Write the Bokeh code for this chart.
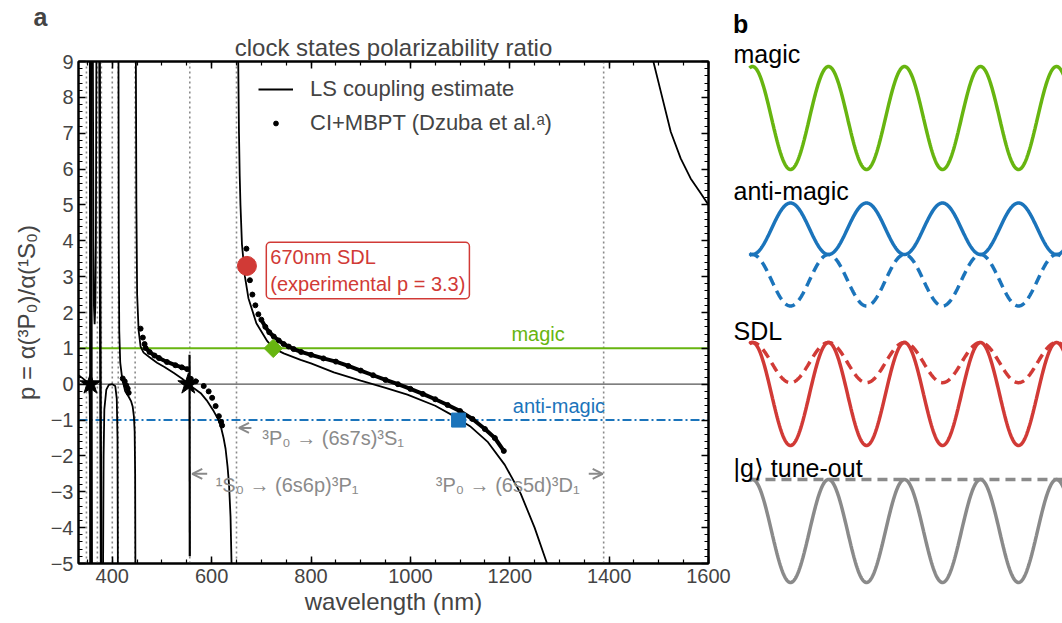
import numpy as np
from bokeh.plotting import figure
from bokeh.layouts import row
from bokeh.models import (Range1d, LinearAxis, SingleIntervalTicker, CustomJSTickFormatter,
                          Span, Label, Legend, LegendItem, Arrow, OpenHead, Title)
from bokeh.embed import file_html
from bokeh.resources import INLINE
from bokeh.core.properties import value

FONT = "Liberation Sans"
GREEN = "#67b510"
BLUE = "#1b74bb"
RED = "#d13a36"
GRAY = "#8a8a8a"

# ---------------- data ----------------
# LS coupling estimate, branches between resonances: wavelength (nm), p
ls_a_lam = [332, 340, 348, 352, 354.5, 355.6, 356.1]
ls_a_p = [0.25, 0.17, 0.08, 0.03, -0.3, -2.0, -5.0]
ls_b_lam = [356.5, 357.0, 357.5]
ls_b_p = [9.0, 0.0, -5.0]
ls_c_lam = [361.0, 362.0, 363.0, 364.5, 366.0, 367.0, 368.0]
ls_c_p = [9.0, 4.0, 2.2, 1.67, 2.2, 4.0, 9.0]
ls_d_lam = [374.5, 375.5, 376.5, 377.5]
ls_d_p = [9.0, 3.0, -1.0, -5.0]
ls_e_lam = [381.5, 382.5, 384, 388, 393, 400, 406, 409, 410.5, 411.2]
ls_e_p = [-5.0, -2.0, -0.7, -0.15, -0.02, 0.0, -0.05, -0.4, -1.5, -5.0]
ls_f_lam = [412.5, 413, 414, 416, 420, 426, 433, 438, 441, 443.5, 445, 446, 446.5]
ls_f_p = [9.0, 4.0, 1.5, 0.6, 0.15, -0.2, -0.35, -0.48, -0.62, -0.9, -1.3, -2.5, -5.0]
ls_g_lam = [447.5, 448.5, 450, 453, 457, 463, 475, 490, 505, 524, 540, 550, 555]
ls_g_p = [9.0, 5.0, 2.5, 1.5, 1.05, 0.88, 0.75, 0.6, 0.48, 0.31, 0.16, 0.05, -0.02]
ls_h_lam = [555.5, 556.0]
ls_h_p = [0.82, -4.8]
ls_i_lam = [556.5, 565, 578, 590, 604, 612, 618, 624, 628, 632, 635, 638, 640]
ls_i_p = [-0.05, -0.12, -0.25, -0.45, -0.75, -0.95, -1.15, -1.5, -1.8, -2.3, -2.8, -3.7, -5.0]
ls_j_lam = [653.5, 655, 656.5, 658, 661, 667, 674, 690, 712, 725, 745, 779, 800, 846, 900,
            950, 994, 1050, 1085, 1120, 1155, 1190, 1222, 1250, 1275]
ls_j_p = [9.0, 7.0, 5.8, 5.0, 3.9, 3.0, 2.4, 1.7, 1.2, 1.0, 0.86, 0.68, 0.58, 0.33, 0.1,
          -0.1, -0.29, -0.6, -0.87, -1.17, -1.6, -2.25, -3.05, -4.0, -5.0]
ls_k_lam = [1489, 1504, 1524, 1544, 1564, 1584, 1600]
ls_k_p = [9.0, 8.16, 7.04, 6.3, 5.74, 5.33, 5.0]

# CI+MBPT (Dzuba et al.) points
ci_1_lam = [421, 425, 428, 431, 433]
ci_1_p = [0.16, 0.08, -0.03, -0.12, -0.24]
ci_2_lam = [457, 461.5, 465, 467, 475, 485, 494, 510, 527, 540, 551]
ci_2_p = [1.55, 1.3, 1.12, 1.01, 0.9, 0.8, 0.73, 0.62, 0.53, 0.47, 0.42]
ci_3_lam = [558, 568, 584, 594, 601, 608, 614.5, 619, 621]
ci_3_p = [0.15, 0.08, -0.05, -0.2, -0.38, -0.61, -0.89, -1.05, -1.15]
ci_4_lam = [670, 677, 682, 688, 694, 700, 708, 716, 725, 735, 745, 755, 765, 780, 800, 825,
            850, 875, 900, 925, 950, 975, 1000, 1025, 1050, 1075, 1100, 1125, 1150, 1170, 1188]
ci_4_p = [3.78, 2.9, 2.5, 2.2, 1.95, 1.8, 1.6, 1.45, 1.33, 1.22, 1.12, 1.05, 0.98, 0.9, 0.82,
          0.72, 0.63, 0.51, 0.38, 0.25, 0.12, 0.0, -0.13, -0.27, -0.42, -0.58, -0.75, -0.97,
          -1.25, -1.5, -1.86]

# transitions (dotted lines), nm
resonances_nm = [348, 370, 378, 400, 412, 446, 556, 650, 1389]

# special points
star_lam = [356, 553]
star_p = [0.0, 0.0]
magic_pt_lam = [724]
magic_pt_p = [1.0]
anti_pt_lam = [1097]
anti_pt_p = [-1.0]
sdl_pt_lam = [671]
sdl_pt_p = [3.3]

# panel b: lattice depth (units of full depth) for solid and dashed curves
b_labels = ["magic", "anti-magic", "SDL", "|g\u27e9 tune-out"]
b_depth_solid = [1.0, -0.5, 1.0, 1.0]
b_depth_dashed = [None, 0.5, 0.39, 0.0]
b_colors = [GREEN, BLUE, RED, GRAY]

# ---------------- panel a ----------------
p = figure(width=732, height=623, output_backend="svg", toolbar_location=None,
           x_range=Range1d(332, 1600), y_range=Range1d(-5, 9),
           min_border_left=78, min_border_right=24, min_border_top=60, min_border_bottom=60,
           title="a",
           x_axis_label="wavelength (nm)",
           y_axis_label="p = \u03b1(\u00b3P\u2080)/\u03b1(\u00b9S\u2080)")
p.frame_align = False
p.grid.visible = False
p.outline_line_color = "black"
p.outline_line_width = 2
p.title.text_font = FONT
p.title.text_font_size = "25px"
p.title.text_font_style = "bold"
p.title.align = "left"
p.title.offset = -45
p.title.standoff = 0

xt = SingleIntervalTicker(interval=200, num_minor_ticks=4)
yt = SingleIntervalTicker(interval=1, num_minor_ticks=5)
minus_fmt = CustomJSTickFormatter(code="return (tick < 0 ? '\\u2212' : '') + Math.abs(tick).toString();")
blank_fmt = CustomJSTickFormatter(code="return '';")


def style_axis(ax, labels=True):
    ax.axis_line_width = 2
    ax.axis_line_color = "black"
    ax.major_tick_in = 7
    ax.major_tick_out = 0
    ax.minor_tick_in = 4
    ax.minor_tick_out = 0
    ax.major_tick_line_width = 1.5
    ax.minor_tick_line_width = 1.2
    ax.major_label_text_font = FONT
    ax.major_label_text_font_size = "20px" if labels else "0px"
    ax.major_label_standoff = 5 if labels else 0
    ax.axis_label_text_font = FONT
    ax.axis_label_text_font_size = "24px"
    ax.axis_label_text_font_style = "normal"


p.xaxis[0].ticker = xt
p.yaxis[0].ticker = yt
p.yaxis[0].formatter = minus_fmt
style_axis(p.xaxis[0])
style_axis(p.yaxis[0])
p.xaxis[0].axis_label_standoff = 2
p.yaxis[0].axis_label_standoff = 8

top_ax = LinearAxis(ticker=xt, formatter=blank_fmt)
right_ax = LinearAxis(ticker=yt, formatter=blank_fmt)
style_axis(top_ax, labels=False)
style_axis(right_ax, labels=False)
p.add_layout(top_ax, "above")
p.add_layout(right_ax, "right")
p.add_layout(Title(text="clock states polarizability ratio", text_font=FONT, text_font_size="24px",
                   text_font_style="normal", align="center", standoff=2), "above")

# reference lines
for lam in resonances_nm:
    p.add_layout(Span(location=lam, dimension="height", line_color=GRAY, line_width=1.6,
                      line_dash="2 3", level="underlay"))
p.add_layout(Span(location=0, dimension="width", line_color="#555555", line_width=1.2, level="underlay"))
p.add_layout(Span(location=1, dimension="width", line_color=GREEN, line_width=2, level="underlay"))
p.add_layout(Span(location=-1, dimension="width", line_color=BLUE, line_width=2,
                  line_dash="9 3 2 3", level="underlay"))

# LS curve
ls_branches = [(ls_a_lam, ls_a_p), (ls_b_lam, ls_b_p), (ls_c_lam, ls_c_p), (ls_d_lam, ls_d_p),
               (ls_e_lam, ls_e_p), (ls_f_lam, ls_f_p), (ls_g_lam, ls_g_p), (ls_h_lam, ls_h_p),
               (ls_i_lam, ls_i_p), (ls_j_lam, ls_j_p), (ls_k_lam, ls_k_p)]
branch_widths = [1.8, 3.5, 1.8, 2.5, 1.8, 1.8, 1.8, 2.2, 1.8, 1.8, 1.8]
ls_renderers = []
for (lam, pv), lw in zip(ls_branches, branch_widths):
    ls_renderers.append(p.line(lam, pv, line_color="black", line_width=lw))

# CI+MBPT points (dense bands drawn as thick trace)
p.line(ci_2_lam[3:], ci_2_p[3:], line_color="black", line_width=4)
p.line(ci_4_lam[5:], ci_4_p[5:], line_color="black", line_width=4)
ci_r = None
for lam, pv in [(ci_1_lam, ci_1_p), (ci_2_lam, ci_2_p), (ci_3_lam, ci_3_p), (ci_4_lam, ci_4_p)]:
    r = p.scatter(lam, pv, size=5, color="black", marker="circle")
    if ci_r is None:
        ci_r = r

# special markers
p.scatter(star_lam, star_p, marker="star", size=22, color="black")
p.scatter(magic_pt_lam, magic_pt_p, marker="square", angle=np.pi / 4, size=13, color=GREEN)
p.scatter(anti_pt_lam, anti_pt_p, marker="square", size=14, color=BLUE)
p.scatter(sdl_pt_lam, sdl_pt_p, marker="circle", size=19, color=RED)

# legend
legend = Legend(items=[LegendItem(label="LS coupling estimate", renderers=[ls_renderers[0]]),
                       LegendItem(label="CI+MBPT (Dzuba et al.\u1d43)", renderers=[ci_r])],
                location=(180, 427), border_line_color=None, background_fill_alpha=0,
                label_text_font=FONT, label_text_font_size="22px", glyph_width=35,
                glyph_height=12, label_height=26, label_standoff=17, spacing=8,
                padding=0, margin=0)
p.add_layout(legend)

# annotations
p.add_layout(Label(x=710, y=3.17, text="670nm SDL\n(experimental p = 3.3)", text_color=RED,
                   text_font=FONT, text_font_size="20px", text_baseline="middle",
                   border_line_color=RED, border_line_width=1.5, background_fill_color="white",
                   padding=4, border_radius=4))
p.add_layout(Label(x=1257, y=1.39, text="magic", text_color=GREEN, text_font=FONT,
                   text_font_size="20px", text_align="center", text_baseline="middle"))
p.add_layout(Label(x=1299, y=-0.61, text="anti-magic", text_color=BLUE, text_font=FONT,
                   text_font_size="20px", text_align="center", text_baseline="middle"))

p.add_layout(Arrow(end=OpenHead(size=10, line_color=GRAY, line_width=2), x_start=680, y_start=-1.22,
                   x_end=655, y_end=-1.22, line_color=GRAY, line_width=2))
p.add_layout(Label(x=702, y=-1.5, text="\u00b3P\u2080 \u2192 (6s7s)\u00b3S\u2081", text_color=GRAY,
                   text_font=FONT, text_font_size="20px", text_baseline="middle"))
p.add_layout(Arrow(end=OpenHead(size=10, line_color=GRAY, line_width=2), x_start=591, y_start=-2.5,
                   x_end=561, y_end=-2.5, line_color=GRAY, line_width=2))
p.add_layout(Label(x=608, y=-2.8, text="\u00b9S\u2080 \u2192 (6s6p)\u00b3P\u2081", text_color=GRAY,
                   text_font=FONT, text_font_size="20px", text_baseline="middle"))
p.add_layout(Arrow(end=OpenHead(size=10, line_color=GRAY, line_width=2), x_start=1359, y_start=-2.5,
                   x_end=1387, y_end=-2.5, line_color=GRAY, line_width=2))
p.add_layout(Label(x=1051, y=-2.8, text="\u00b3P\u2080 \u2192 (6s5d)\u00b3D\u2081", text_color=GRAY,
                   text_font=FONT, text_font_size="20px", text_baseline="middle"))

# ---------------- panel b ----------------
B_PERIOD_PX = 76
B_X0_PX = 20
B_W = 330
row_top_px = [66, 254, 342, 479]
B_AMP_PX = 103
label_base_px = [53, 190, 330, 467]

pb = figure(width=B_W, height=623, output_backend="svg", toolbar_location=None,
            x_range=Range1d(-B_X0_PX / B_PERIOD_PX, (B_W - B_X0_PX) / B_PERIOD_PX),
            y_range=Range1d(623, 0), x_axis_location=None, y_axis_location=None,
            min_border=0, outline_line_color=None, title_location=None)
pb.frame_align = False
pb.grid.visible = False

xb = np.linspace(-0.04, 4.3, 700)
shape = (1 - np.cos(2 * np.pi * xb)) / 2
for i in range(4):
    base = row_top_px[i]
    pb.line(xb, base + b_depth_solid[i] * B_AMP_PX * shape, line_color=b_colors[i], line_width=3.5)
    if b_depth_dashed[i] is not None:
        pb.line(xb, base + b_depth_dashed[i] * B_AMP_PX * shape, line_color=b_colors[i],
                line_width=3.5, line_dash="10 6")
pb.text(x=[-19 / B_PERIOD_PX] * 4, y=label_base_px, text=b_labels, text_font=value(FONT),
        text_font_size="25px", text_baseline="alphabetic", text_color="black")
# panel letter b
pb.text(x=[-19.5 / B_PERIOD_PX], y=[23], text=["b"], text_font=value(FONT), text_font_size="25px",
        text_font_style="bold", text_baseline="alphabetic", text_color="black")

layout = row(p, pb, spacing=0)
open("out.html", "w").write(file_html(layout, INLINE))
